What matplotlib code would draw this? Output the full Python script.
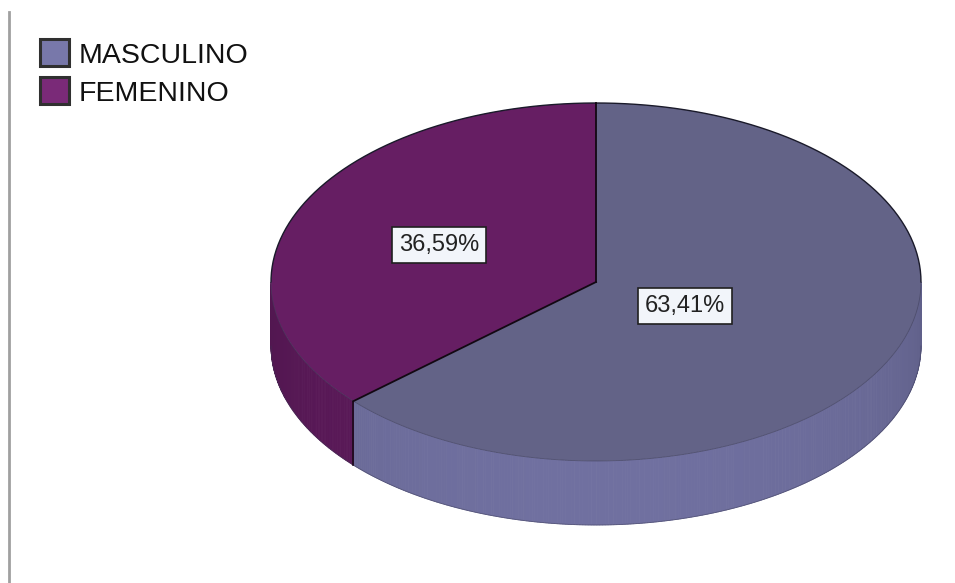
import numpy as np
import matplotlib
matplotlib.use("Agg")
import matplotlib.pyplot as plt
from matplotlib.patches import Polygon, Rectangle

plt.rcParams['font.family'] = ['Liberation Sans', 'DejaVu Sans']

# Data
categories = ["MASCULINO", "FEMENINO"]
percentages = [63.41, 36.59]
value_labels = ["63,41%", "36,59%"]

# Colours: top face, side wall, legend swatch
top_colors = ["#636387", "#661e63"]
side_colors = ["#7070a0", "#5e1a5c"]
swatch_colors = ["#7878aa", "#7a2a78"]

W, H = 955, 583
fig = plt.figure(figsize=(W / 100, H / 100), dpi=100)
ax = fig.add_axes([0, 0, 1, 1])
ax.set_xlim(0, W)
ax.set_ylim(H, 0)
ax.axis("off")

# Pie geometry (pixel coordinates, y downwards)
cx, cy = 596, 282
a, b = 325, 179
depth = 64


def pt(theta_deg, r=1.0, dy=0.0):
    t = np.radians(theta_deg)
    return cx + r * a * np.cos(t), cy - r * b * np.sin(t) + dy


# Slice angles: FEMENINO starts at 12 o'clock and runs counter-clockwise,
# MASCULINO fills the rest.
fem_start = 90.0
fem_end = fem_start + percentages[1] / 100 * 360
masc_start = fem_end
masc_end = fem_start + 360
spans = {0: (masc_start, masc_end), 1: (fem_start, fem_end)}


def shade(color, factor):
    c = np.array(matplotlib.colors.to_rgb(color))
    return np.clip(c * factor, 0, 1)


# Side walls (visible lower half: 180..360 deg), drawn as thin vertical strips
for idx, (s, e) in spans.items():
    lo = max(s, 180.0)
    hi = min(e, 360.0)
    if hi <= lo:
        continue
    n = int((hi - lo) * 2) + 2
    th = np.linspace(lo, hi, n)
    for t0, t1 in zip(th[:-1], th[1:]):
        tm = 0.5 * (t0 + t1)
        # brighter toward the front, darker toward the rim ends
        f = 0.86 + 0.14 * np.sin(np.radians(tm - 180))
        col = shade(side_colors[idx], f)
        x0, y0 = pt(t0)
        x1, y1 = pt(t1)
        poly = Polygon([(x0, y0), (x1, y1), (x1, y1 + depth), (x0, y0 + depth)],
                       closed=True, facecolor=col, edgecolor=col, linewidth=0.6,
                       zorder=2)
        ax.add_patch(poly)

# Outer bottom rim outline
th = np.linspace(180, 360, 300)
xs, ys = zip(*[pt(t, dy=depth) for t in th])
ax.plot(xs, ys, color="#3a3a55", lw=0.6, alpha=0.5, zorder=3)

# Vertical edge at the slice boundary on the front wall
xb, yb = pt(fem_end)
ax.plot([xb, xb], [yb, yb + depth], color="#1a0a1a", lw=1.2, zorder=4)

# Top faces
for idx, (s, e) in spans.items():
    th = np.linspace(s, e, 400)
    pts = [(cx, cy)] + [pt(t) for t in th]
    ax.add_patch(Polygon(pts, closed=True, facecolor=top_colors[idx],
                         edgecolor="none", zorder=5))

# Top outline (upper rim crisp, lower rim soft)
th = np.linspace(0, 180, 300)
xs, ys = zip(*[pt(t) for t in th])
ax.plot(xs, ys, color="#1a1a2a", lw=1.0, zorder=6)
th = np.linspace(180, 360, 300)
xs, ys = zip(*[pt(t) for t in th])
ax.plot(xs, ys, color="#40405a", lw=0.6, alpha=0.6, zorder=6)

# Slice dividers
for ang in (fem_start, fem_end):
    x, y = pt(ang)
    ax.plot([cx, x], [cy, y], color="#120812", lw=1.3, zorder=7)

# Value labels
label_r = {0: 0.30, 1: 0.53}
for idx, (s, e) in spans.items():
    mid = 0.5 * (s + e)
    x, y = pt(mid, r=label_r[idx])
    ax.text(x, y + 2, value_labels[idx], ha="center", va="center", fontsize=17,
            color="#222222", zorder=8,
            bbox=dict(boxstyle="square,pad=0.3", facecolor="#f2f5fa",
                      edgecolor="#202020", linewidth=1.2))

# Legend
legend_y = [52, 90]
for idx, yy in enumerate(legend_y):
    ax.add_patch(Rectangle((40, yy - 13), 29, 27, facecolor=swatch_colors[idx],
                           edgecolor="#303030", linewidth=2.2, zorder=8))
    ax.text(79, yy + 4, categories[idx], ha="left", va="center", fontsize=20.5,
            color="#111111", zorder=8)

# Left frame line
ax.plot([9, 9], [12, 583], color="#a0a0a0", lw=2, zorder=1)

fig.savefig("out.png", dpi=100)
